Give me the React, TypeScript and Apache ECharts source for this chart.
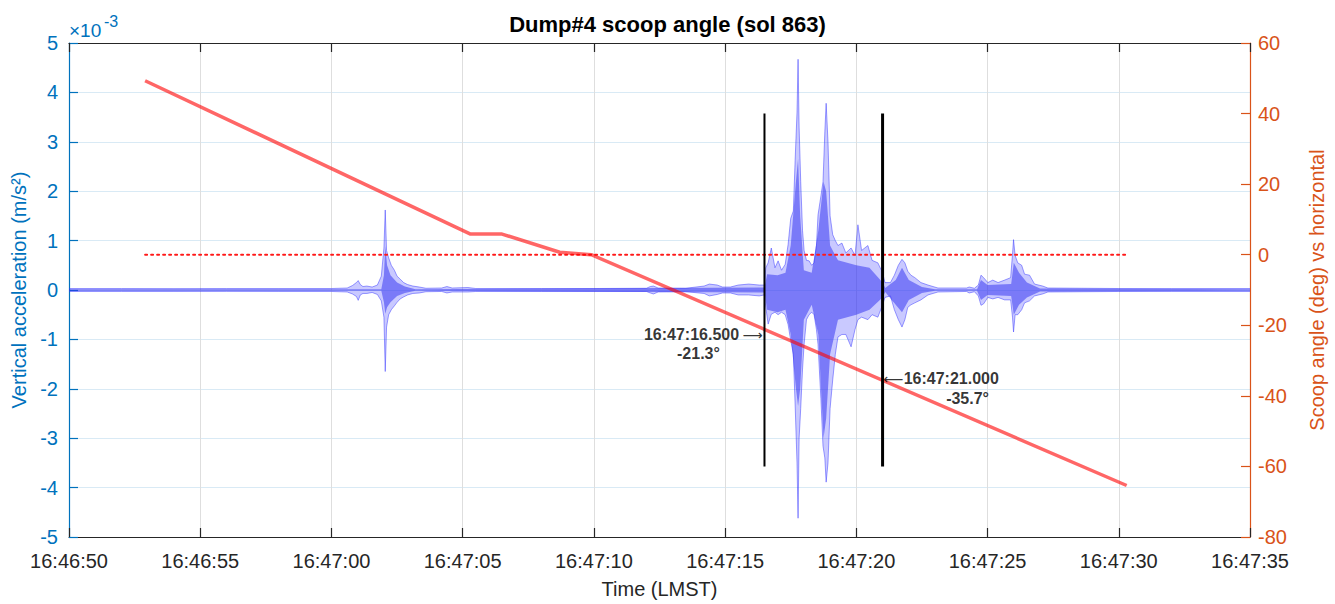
import React, { useEffect, useRef } from "react";
import * as echarts from "echarts";

// ---------- text ----------
const TITLE = "Dump#4 scoop angle (sol 863)";
const X_NAME = "Time (LMST)";
const Y_LEFT_NAME = "Vertical acceleration (m/s²)";
const Y_RIGHT_NAME = "Scoop angle (deg) vs horizontal";

// x axis: seconds after 16:46:50, one tick every 5 s
const xTickLabels = [
  "16:46:50", "16:46:55", "16:47:00", "16:47:05", "16:47:10",
  "16:47:15", "16:47:20", "16:47:25", "16:47:30", "16:47:35",
];
const X_STEP = 5;

// ---------- vertical acceleration (x 10^-3 m/s^2), envelope ----------
// outer envelope (includes the thin spikes)
const envT = [
  0.0, 2.0, 4.0, 6.0, 8.0, 10.0, 10.6, 10.8, 10.95, 11.02, 11.1, 11.2, 11.35, 11.55, 11.75, 11.9,
  12.0, 12.05, 12.1, 12.18, 12.28, 12.4, 12.5, 12.62, 12.75, 12.9, 13.1, 13.35, 13.6, 14.2, 14.4,
  14.6, 15.2, 15.5, 18.0, 20.0, 22.0, 22.15, 22.27, 22.45, 23.5, 24.2, 24.4, 24.7, 24.9, 25.2,
  25.5, 25.9, 26.3, 26.5, 26.55, 26.64, 26.76, 26.9, 27.02, 27.15, 27.29, 27.4, 27.5, 27.6, 27.67,
  27.74, 27.78, 27.82, 27.88, 27.95, 28.01, 28.1, 28.2, 28.3, 28.39, 28.48, 28.54, 28.65, 28.73,
  28.8, 28.85, 28.92, 29.0, 29.1, 29.2, 29.3, 29.45, 29.6, 29.8, 29.95, 30.06, 30.2, 30.44, 30.6,
  30.82, 31.0, 31.09, 31.3, 31.45, 31.6, 31.74, 31.85, 31.96, 32.08, 32.23, 32.46, 32.73, 33.11,
  34.2, 34.3, 34.5, 34.65, 34.75, 34.85, 35.01, 35.2, 35.4, 35.65, 35.88, 35.95, 35.99, 36.05,
  36.15, 36.3, 36.41, 36.6, 36.79, 37.1, 37.3, 40.0, 42.0, 45.0,
];
const envHi = [
  0.03, 0.03, 0.028, 0.03, 0.03, 0.03, 0.04, 0.09, 0.15, 0.19, 0.11, 0.07, 0.08, 0.06, 0.1, 0.28,
  0.85, 1.62, 0.8, 0.65, 0.5, 0.4, 0.28, 0.22, 0.15, 0.11, 0.08, 0.06, 0.035, 0.04, 0.07,
  0.04, 0.05, 0.03, 0.03, 0.03, 0.035, 0.07, 0.08, 0.04, 0.035, 0.08, 0.12, 0.1, 0.06, 0.06,
  0.1, 0.12, 0.1, 0.1, 0.45, 0.55, 0.85, 0.45, 0.59, 0.4, 0.52, 0.92, 1.45, 1.6, 2.65,
  3.6, 4.67, 3.3, 2.2, 1.2, 0.8, 0.6, 0.59, 0.5, 0.55, 0.9, 1.52, 1.9, 2.19,
  3.2, 3.78, 3.0, 1.5, 1.12, 1.0, 0.9, 0.95, 0.75, 0.85, 0.7, 1.32, 0.8, 0.9, 0.6,
  0.55, 0.35, 0.15, 0.15, 0.3, 0.5, 0.62, 0.55, 0.38, 0.3, 0.25, 0.15, 0.1, 0.04,
  0.04, 0.06, 0.035, 0.1, 0.3, 0.25, 0.15, 0.2, 0.15, 0.2, 0.25, 0.72, 1.02, 0.7,
  0.55, 0.5, 0.32, 0.3, 0.12, 0.08, 0.04, 0.03, 0.03, 0.03,
];
const envLo = [
  -0.03, -0.03, -0.03, -0.028, -0.03, -0.03, -0.04, -0.08, -0.13, -0.21, -0.1, -0.07, -0.07, -0.05, -0.09, -0.22,
  -0.55, -1.65, -0.75, -0.5, -0.4, -0.32, -0.25, -0.18, -0.14, -0.1, -0.07, -0.06, -0.035, -0.03, -0.06,
  -0.04, -0.04, -0.03, -0.03, -0.03, -0.03, -0.06, -0.08, -0.04, -0.035, -0.07, -0.12, -0.09, -0.06, -0.06,
  -0.1, -0.1, -0.12, -0.1, -0.35, -0.69, -0.49, -0.45, -0.5, -0.45, -0.5, -0.7, -1.02, -1.3, -2.35,
  -3.5, -4.62, -3.0, -2.4, -1.6, -1.1, -0.6, -0.5, -0.45, -0.5, -0.8, -1.1, -2.2, -3.16,
  -3.4, -3.89, -3.5, -2.4, -1.82, -1.3, -0.95, -0.9, -0.9, -1.15, -0.8, -0.6, -0.55, -0.6, -0.5,
  -0.55, -0.3, -0.15, -0.12, -0.4, -0.6, -0.75, -0.6, -0.35, -0.3, -0.26, -0.2, -0.1, -0.04,
  -0.03, -0.06, -0.035, -0.12, -0.31, -0.28, -0.15, -0.18, -0.15, -0.2, -0.2, -0.55, -0.85, -0.5,
  -0.5, -0.4, -0.26, -0.22, -0.12, -0.08, -0.04, -0.03, -0.03, -0.03,
];
// dense body of the trace
const bodyT = [
  0.0, 11.9, 12.0, 12.05, 12.12, 12.25, 12.5, 12.8, 13.2, 26.5, 26.6, 27.0, 27.3, 27.5, 27.7, 27.78,
  27.86, 28.0, 28.3, 28.55, 28.75, 28.85, 29.0, 29.3, 30.0, 30.5, 31.0, 31.1, 31.5, 31.74, 32.0,
  32.5, 33.0, 34.6, 34.75, 35.0, 35.9, 36.0, 36.2, 36.5, 37.0, 45.0,
];
const bodyHi = [
  0.015, 0.015, 0.3, 0.89, 0.5, 0.3, 0.15, 0.07, 0.015, 0.05, 0.32, 0.3, 0.35, 0.9, 2.2, 2.65,
  1.5, 0.4, 0.35, 1.2, 2.19, 2.0, 0.9, 0.6, 0.5, 0.45, 0.15, 0.04, 0.2, 0.45, 0.2,
  0.06, 0.015, 0.015, 0.2, 0.1, 0.12, 0.55, 0.35, 0.15, 0.03, 0.015,
];
const bodyLo = [
  -0.015, -0.015, -0.25, -0.48, -0.35, -0.25, -0.12, -0.06, -0.015, -0.05, -0.4, -0.45, -0.4, -0.9, -2.0, -2.35,
  -2.0, -0.6, -0.3, -0.9, -3.0, -2.6, -1.3, -0.6, -0.5, -0.4, -0.15, -0.04, -0.3, -0.45, -0.2,
  -0.06, -0.015, -0.015, -0.2, -0.1, -0.12, -0.5, -0.3, -0.15, -0.03, -0.015,
];

// ---------- scoop angle (deg) ----------
const angleT = [2.9, 15.3, 16.5, 18.7, 19.9, 40.3];
const angleDeg = [49.3, 5.85, 5.85, 0.7, 0.0, -65.4];
const zeroT = [2.9, 40.3];
const zeroDeg = [0, 0];

// ---------- marked instants ----------
const markT = [26.5, 31.0];
const markDeg = [-21.3, -35.7];
const markClock = ["16:47:16.500", "16:47:21.000"];
const markSpanDeg = [-60, 40];

const BLUE = "#0072BD";
const ORANGE = "#D95319";
const DARK = "#262626";
const FONT = "'Liberation Sans', Arial, Helvetica, sans-serif";
const ARROW_FONT = "'DejaVu Sans', sans-serif";

export default function App() {
  const ref = useRef<HTMLDivElement>(null);
  useEffect(() => {
    document.body.style.margin = "0";
    const chart = echarts.init(ref.current!, null, { renderer: "svg" });

    const pair = (t: number[], v: number[]) => t.map((x, i) => [x, v[i]]);

    const markLabelStyles = [
      {
        time: { position: "left", distance: 2, offset: [0, 5], text: (c: string) => "{n|" + c + "} {a|\u27F6}" },
        angle: { position: "inside", offset: [-66, 24] },
      },
      {
        time: { position: "right", distance: 1, offset: [0, -2], text: (c: string) => "{a|\u27F5}{n|" + c + "}" },
        angle: { position: "inside", offset: [85, 18] },
      },
    ];
    const annotRich = {
      n: { fontSize: 16, fontWeight: "bold", color: "#000", fontFamily: FONT },
      a: { fontSize: 14, color: "#000", fontFamily: ARROW_FONT },
    };
    const annotFont = { fontSize: 16, fontWeight: "bold", color: "#000", fontFamily: FONT };

    const option: any = {
      animation: false,
      backgroundColor: "#ffffff",
      textStyle: { fontFamily: FONT },
      title: {
        text: TITLE,
        left: "center",
        top: 8,
        textStyle: { fontSize: 22, fontWeight: "bold", color: "#000", fontFamily: FONT },
      },
      grid: { left: 69, right: 81, top: 43, bottom: 62, containLabel: false },
      xAxis: [
        {
          type: "value",
          min: 0,
          max: 45,
          interval: X_STEP,
          position: "bottom",
          name: X_NAME,
          nameLocation: "middle",
          nameGap: 42,
          nameTextStyle: { fontSize: 20, color: DARK, fontFamily: FONT },
          axisLine: { show: true, onZero: false, lineStyle: { color: DARK, width: 1.2 } },
          axisTick: { show: true, inside: true, length: 9, lineStyle: { color: DARK, width: 1.2 } },
          axisLabel: {
            color: DARK,
            fontSize: 20,
            margin: 14,
            formatter: (v: number) => xTickLabels[Math.round(v / X_STEP)] ?? "",
          },
          splitLine: { show: true, lineStyle: { color: "#dedede", width: 1 } },
        },
        {
          type: "value",
          min: 0,
          max: 45,
          interval: X_STEP,
          position: "top",
          axisLine: { show: true, onZero: false, lineStyle: { color: DARK, width: 1.2 } },
          axisTick: { show: true, inside: true, length: 9, lineStyle: { color: DARK, width: 1.2 } },
          axisLabel: { show: false },
          splitLine: { show: false },
        },
      ],
      yAxis: [
        {
          type: "value",
          min: -5,
          max: 5,
          interval: 1,
          position: "left",
          name: Y_LEFT_NAME,
          nameLocation: "middle",
          nameRotate: 90,
          nameGap: 36,
          nameTextStyle: { fontSize: 20, color: BLUE, fontFamily: FONT },
          axisLine: { show: true, onZero: false, lineStyle: { color: BLUE, width: 1.2 } },
          axisTick: { show: true, inside: true, length: 9, lineStyle: { color: BLUE, width: 1.2 } },
          axisLabel: { color: BLUE, fontSize: 20, margin: 11 },
          splitLine: { show: true, lineStyle: { color: "#d9eaf5", width: 1 } },
        },
        {
          type: "value",
          min: -80,
          max: 60,
          interval: 20,
          position: "right",
          name: Y_RIGHT_NAME,
          nameLocation: "middle",
          nameRotate: 90,
          nameGap: 57,
          nameTextStyle: { fontSize: 20, color: ORANGE, fontFamily: FONT },
          axisLine: { show: true, onZero: false, lineStyle: { color: ORANGE, width: 1.2 } },
          axisTick: { show: true, inside: true, length: 9, lineStyle: { color: ORANGE, width: 1.2 } },
          axisLabel: { color: ORANGE, fontSize: 20, margin: 8 },
          splitLine: { show: false },
        },
      ],
      graphic: [
        { type: "text", x: 69, y: 21, style: { text: "\u00d710", fontSize: 19, fill: BLUE, fontFamily: FONT } },
        { type: "text", x: 104, y: 13, style: { text: "-3", fontSize: 16, fill: BLUE, fontFamily: FONT } },
      ],
      series: [
        {
          name: "accHiOuter",
          type: "line",
          xAxisIndex: 0,
          yAxisIndex: 0,
          data: pair(envT, envHi),
          symbol: "none",
          lineStyle: { color: "rgba(50,50,255,0.6)", width: 0.8 },
          areaStyle: { origin: 0, color: "rgba(70,70,255,0.42)" },
          z: 2,
        },
        {
          name: "accLoOuter",
          type: "line",
          xAxisIndex: 0,
          yAxisIndex: 0,
          data: pair(envT, envLo),
          symbol: "none",
          lineStyle: { color: "rgba(50,50,255,0.6)", width: 0.8 },
          areaStyle: { origin: 0, color: "rgba(70,70,255,0.42)" },
          z: 2,
        },
        {
          name: "accHiBody",
          type: "line",
          xAxisIndex: 0,
          yAxisIndex: 0,
          data: pair(bodyT, bodyHi),
          symbol: "none",
          lineStyle: { width: 0 },
          areaStyle: { origin: 0, color: "rgba(40,40,240,0.7)" },
          z: 3,
        },
        {
          name: "accLoBody",
          type: "line",
          xAxisIndex: 0,
          yAxisIndex: 0,
          data: pair(bodyT, bodyLo),
          symbol: "none",
          lineStyle: { width: 0 },
          areaStyle: { origin: 0, color: "rgba(40,40,240,0.7)" },
          z: 3,
        },
        {
          name: "zero",
          type: "line",
          xAxisIndex: 0,
          yAxisIndex: 1,
          data: pair(zeroT, zeroDeg),
          symbol: "none",
          lineStyle: { color: "#ff1a1a", width: 2, type: [2, 4], cap: "round" },
          z: 4,
        },
        {
          name: "angle",
          type: "line",
          xAxisIndex: 0,
          yAxisIndex: 1,
          data: pair(angleT, angleDeg),
          symbol: "none",
          lineStyle: { color: "rgba(255,0,0,0.6)", width: 3.5 },
          z: 5,
        },
        ...markT.map((t, i) => ({
          name: "mark" + i,
          type: "line",
          xAxisIndex: 0,
          yAxisIndex: 1,
          data: markSpanDeg.map((d) => [t, d]),
          symbol: "none",
          lineStyle: { color: "#000", width: i === 0 ? 2 : 3 },
          z: 6,
        })),
        {
          name: "markTime",
          type: "scatter",
          xAxisIndex: 0,
          yAxisIndex: 1,
          symbolSize: 0,
          z: 7,
          data: markT.map((t, i) => ({
            value: [t, markDeg[i]],
            label: {
              show: true,
              position: markLabelStyles[i].time.position,
              distance: markLabelStyles[i].time.distance,
              offset: markLabelStyles[i].time.offset,
              formatter: markLabelStyles[i].time.text(markClock[i]),
              rich: annotRich,
            },
          })),
        },
        {
          name: "markAngle",
          type: "scatter",
          xAxisIndex: 0,
          yAxisIndex: 1,
          symbolSize: 0,
          z: 7,
          data: markT.map((t, i) => ({
            value: [t, markDeg[i]],
            label: {
              show: true,
              position: markLabelStyles[i].angle.position,
              offset: markLabelStyles[i].angle.offset,
              formatter: markDeg[i].toFixed(1) + "\u00b0",
              ...annotFont,
            },
          })),
        },
      ],
    };
    chart.setOption(option);
    return () => chart.dispose();
  }, []);
  return <div ref={ref} style={{ width: 1335, height: 604 }} />;
}
